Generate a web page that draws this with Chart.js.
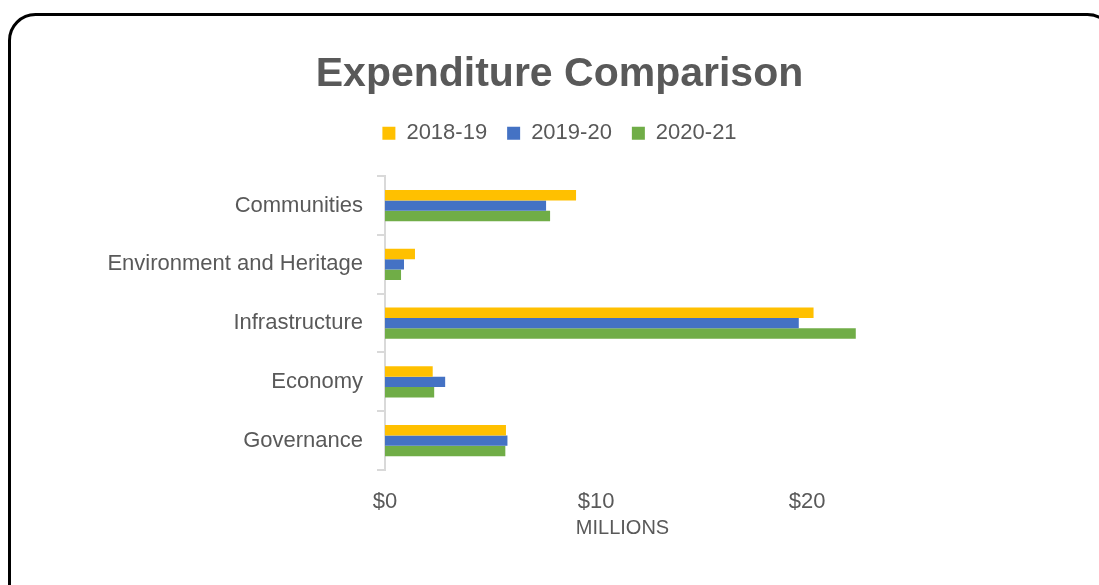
<!DOCTYPE html>
<html>
<head>
<meta charset="utf-8">
<script src="https://cdn.jsdelivr.net/npm/chart.js@4/dist/chart.umd.min.js"></script>
<style>
  html, body { margin: 0; padding: 0; background: #ffffff; }
  #wrap { width: 1099px; height: 585px; position: relative; }
</style>
</head>
<body>
<div id="wrap"><canvas id="c" width="1099" height="585"></canvas></div>
<script>
const categories = ['Communities', 'Environment and Heritage', 'Infrastructure', 'Economy', 'Governance'];
const seriesNames = ['2018-19', '2019-20', '2020-21'];
const values2018 = [9.05, 1.42, 20.3, 2.26, 5.73];
const values2019 = [7.63, 0.9, 19.6, 2.85, 5.8];
const values2020 = [7.82, 0.76, 22.3, 2.33, 5.7];
const seriesColors = ['#FFC000', '#4472C4', '#70AD47'];
const xTickValues = [0, 10, 20];

const FONT = "'Liberation Sans', Arial, sans-serif";
const TXT = '#595959';

const framePlugin = {
  id: 'frame',
  beforeLayout(chart) {
    if (chart.legend && !chart.legend._patched) {
      const lg = chart.legend;
      const origFit = lg.fit.bind(lg);
      lg.fit = function () { origFit(); this.height = 74; };
      lg._patched = true;
    }
  },
  beforeDraw(chart) {
    const ctx = chart.ctx;
    ctx.save();
    ctx.fillStyle = '#ffffff';
    ctx.fillRect(0, 0, chart.width, chart.height);
    const x = 9.5, y = 14.5, w = 1104, h = 600, r = 26;
    ctx.beginPath();
    ctx.moveTo(x + r, y);
    ctx.lineTo(x + w - r, y);
    ctx.arcTo(x + w, y, x + w, y + r, r);
    ctx.lineTo(x + w, y + h - r);
    ctx.arcTo(x + w, y + h, x + w - r, y + h, r);
    ctx.lineTo(x + r, y + h);
    ctx.arcTo(x, y + h, x, y + h - r, r);
    ctx.lineTo(x, y + r);
    ctx.arcTo(x, y, x + r, y, r);
    ctx.closePath();
    ctx.lineWidth = 3;
    ctx.strokeStyle = '#000000';
    ctx.stroke();
    ctx.restore();
  }
};

const datasets = [values2018, values2019, values2020].map((vals, i) => ({
  label: seriesNames[i],
  data: vals,
  backgroundColor: seriesColors[i],
  borderWidth: 0,
  barPercentage: 1.0,
  categoryPercentage: 0.53
}));

new Chart(document.getElementById('c'), {
  type: 'bar',
  data: { labels: categories, datasets },
  plugins: [framePlugin],
  options: {
    indexAxis: 'y',
    responsive: false,
    animation: false,
    layout: { padding: { left: 20, right: 0, top: 0, bottom: 45 } },
    plugins: {
      title: {
        display: true,
        text: 'Expenditure Comparison',
        color: TXT,
        font: { family: FONT, size: 41, weight: 'bold' },
        padding: { top: 50, bottom: 3 }
      },
      legend: {
        display: true,
        position: 'top',
        labels: {
          color: TXT,
          font: { family: FONT, size: 22 },
          boxWidth: 13,
          boxHeight: 13,
          padding: 20
        }
      },
      tooltip: { enabled: false }
    },
    scales: {
      x: {
        min: 0,
        max: 22.5,
        afterBuildTicks(axis) {
          axis.ticks = xTickValues.map(v => ({ value: v }));
        },
        afterFit(scale) { scale.height = 70; },
        grid: { display: false, drawTicks: false },
        border: { display: false },
        ticks: {
          color: TXT,
          font: { family: FONT, size: 22 },
          padding: 19,
          callback: (v) => '$' + v
        },
        title: {
          display: true,
          text: 'MILLIONS',
          color: TXT,
          font: { family: FONT, size: 20 },
          padding: { top: 0, bottom: 0 }
        }
      },
      y: {
        afterFit(scale) { scale.width = 365; },
        grid: {
          display: true,
          drawOnChartArea: false,
          drawTicks: true,
          tickLength: 8,
          color: '#d9d9d9',
          lineWidth: 2,
          offset: true
        },
        border: { display: true, color: '#d9d9d9', width: 2 },
        ticks: {
          color: TXT,
          font: { family: FONT, size: 22 },
          padding: 14
        }
      },
      yRight: {
        type: 'category',
        position: 'right',
        display: true,
        afterFit(scale) { scale.width = 239; },
        grid: { display: false, drawTicks: false },
        border: { display: false },
        ticks: { display: false }
      }
    }
  }
});
</script>
</body>
</html>
